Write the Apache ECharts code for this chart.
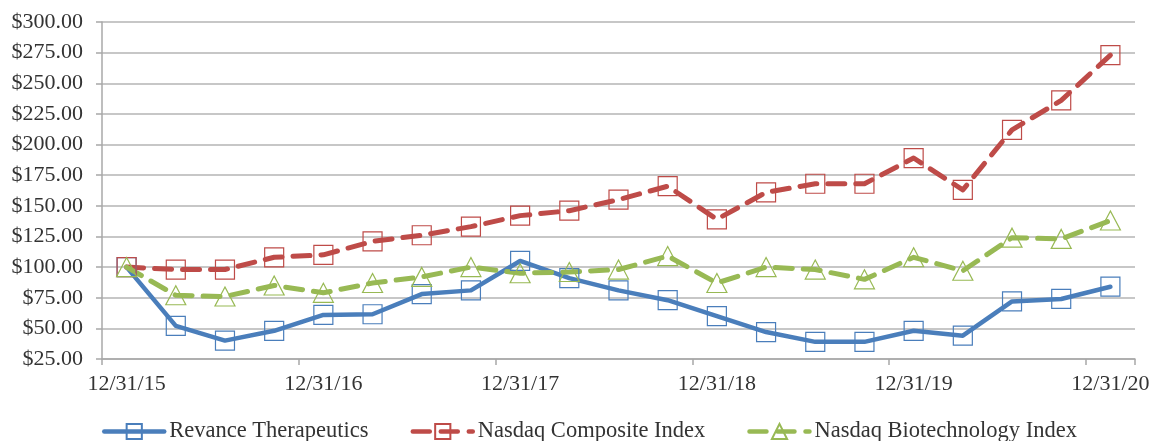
<!DOCTYPE html>
<html>
<head>
<meta charset="utf-8">
<script src="https://cdn.jsdelivr.net/npm/echarts@6/dist/echarts.min.js"></script>
<style>
html,body{margin:0;padding:0;background:#fff;}
#c{width:1153px;height:441px;}
</style>
</head>
<body>
<div id="c"></div>
<script>
const categories = [
  '12/31/15','3/31/16','6/30/16','9/30/16',
  '12/31/16','3/31/17','6/30/17','9/30/17',
  '12/31/17','3/31/18','6/30/18','9/30/18',
  '12/31/18','3/31/19','6/30/19','9/30/19',
  '12/31/19','3/31/20','6/30/20','9/30/20',
  '12/31/20'
];
const revance   = [100, 52, 40, 48, 61, 61.5, 78, 81, 105, 91, 81, 73, 60, 47, 39, 39, 48, 44, 72, 74, 84];
const composite = [100, 98, 98, 108, 110, 121, 126, 133, 142, 146, 155, 166, 139, 161, 168, 168, 189, 163, 212, 236, 273];
const biotech   = [100, 77, 76, 85, 79, 87, 92, 100, 95, 96, 98, 109, 87, 100, 98, 90, 108, 97, 124, 123, 138];
const yMin = 25, yMax = 300, yStep = 25;

const font = '"Liberation Serif", "Times New Roman", serif';
const txt = '#333333';

function mk(name, data, color, symbol, dashed) {
  return {
    name: name,
    type: 'line',
    data: data,
    symbol: symbol,
    symbolSize: symbol === 'triangle' ? [20, 19] : 19,
    showSymbol: true,
    lineStyle: {
      color: color,
      width: dashed ? 5 : 4.5,
      type: dashed ? [17, 11] : 'solid',
      cap: 'round',
      join: 'round'
    },
    itemStyle: {
      color: 'rgba(255,255,255,0)',
      borderColor: color,
      borderWidth: 1.2
    },
    emphasis: { disabled: true },
    animation: false
  };
}

const chart = echarts.init(document.getElementById('c'), null, { renderer: 'canvas' });
chart.setOption({
  animation: false,
  backgroundColor: '#ffffff',
  grid: { left: 102, right: 18, top: 22, bottom: 82, containLabel: false },
  legend: {
    left: 102,
    top: 420,
    padding: 0,
    itemWidth: 60,
    itemHeight: 19,
    itemGap: 42,
    lineStyle: { width: 4.5 },
    textStyle: { fontFamily: font, fontSize: 22.5, color: txt },
    data: ['Revance Therapeutics', 'Nasdaq Composite Index', 'Nasdaq Biotechnology Index']
  },
  xAxis: {
    type: 'category',
    data: categories,
    boundaryGap: true,
    axisLine: { lineStyle: { color: '#a8a8a8', width: 1.5 } },
    axisTick: { show: true, interval: 3, length: 6, lineStyle: { color: '#a8a8a8', width: 1.5 } },
    axisLabel: { interval: 3, margin: 14, fontFamily: font, fontSize: 22, color: txt }
  },
  yAxis: {
    type: 'value',
    min: yMin, max: yMax, interval: yStep,
    axisLine: { show: true, lineStyle: { color: '#a8a8a8', width: 1.5 } },
    axisTick: { show: true, length: 6, lineStyle: { color: '#a8a8a8', width: 1.5 } },
    axisLabel: {
      margin: 19, fontFamily: font, fontSize: 22, color: txt,
      formatter: v => '$' + v.toFixed(2)
    },
    splitLine: { show: true, lineStyle: { color: '#b4b4b4', width: 1.5 } }
  },
  series: [
    mk('Revance Therapeutics', revance, '#4A7EBB', 'rect', false),
    mk('Nasdaq Composite Index', composite, '#BE4B48', 'rect', true),
    mk('Nasdaq Biotechnology Index', biotech, '#98B954', 'triangle', true)
  ]
});
</script>
</body>
</html>
